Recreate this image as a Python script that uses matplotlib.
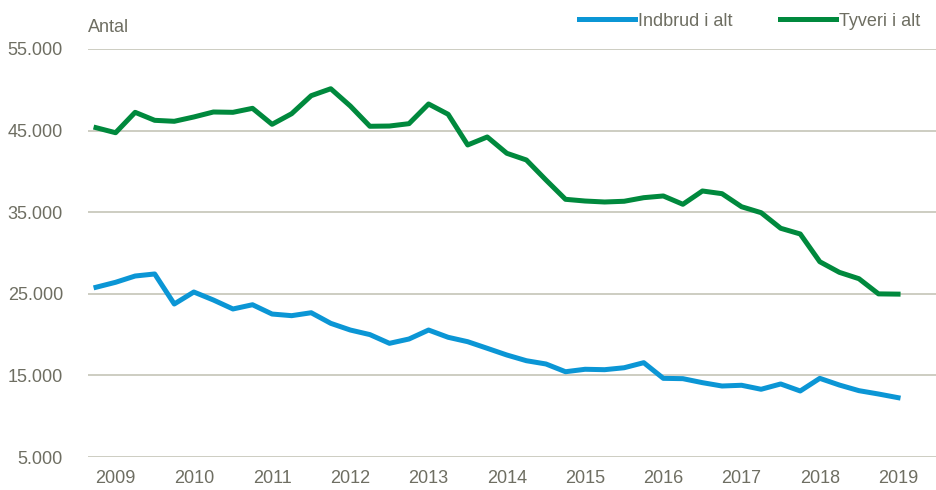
import matplotlib
matplotlib.use('Agg')
from matplotlib import pyplot as plt
from matplotlib.ticker import FuncFormatter

# quarterly, Q1 2009 .. Q2 2019
quarters = list(range(42))
indbrud = [25800, 26410, 27180, 27430, 23750, 25220, 24240, 23140, 23660, 22520,
           22320, 22680, 21380, 20560, 20000, 18930, 19460, 20560, 19670, 19130,
           18320, 17500, 16800, 16400, 15450, 15750, 15700, 15940, 16560, 14640,
           14600, 14110, 13700, 13790, 13300, 13950, 13090, 14640, 13820, 13130,
           12720, 12270]
tyveri = [45360, 44740, 47240, 46260, 46140, 46670, 47280, 47240, 47730, 45770,
          47070, 49280, 50130, 48010, 45530, 45560, 45850, 48260, 47000, 43240,
          44220, 42220, 41400, 38950, 36580, 36370, 36250, 36340, 36780, 36990,
          35970, 37600, 37270, 35670, 34940, 33030, 32330, 28930, 27630, 26850,
          24990, 24960]
year_pos = [1 + 4 * k for k in range(11)]
year_labels = [str(2009 + k) for k in range(11)]
y_ticks = [5000, 15000, 25000, 35000, 45000, 55000]

text_col = '#6e6e62'
grid_col = '#c9c9bd'

plt.rcParams['font.family'] = ['Liberation Sans', 'DejaVu Sans']

fig = plt.figure(figsize=(9.36, 4.9), dpi=100)
ax = fig.add_axes([88 / 936, 1 - 457 / 490, 848 / 936, (457 - 49) / 490])

ax.plot(quarters, indbrud, color='#0b96d5', lw=3.6, label='Indbrud i alt', solid_joinstyle='round')
ax.plot(quarters, tyveri, color='#00893d', lw=3.6, label='Tyveri i alt', solid_joinstyle='round')

ax.set_ylim(5000, 55000)
ax.set_xlim(-0.41, 42.94)
ax.set_yticks(y_ticks)
ax.yaxis.set_major_formatter(FuncFormatter(lambda v, p: f'{int(v):,}'.replace(',', '.')))
ax.set_xticks(year_pos)
ax.set_xticklabels(year_labels)
ax.tick_params(length=0, labelsize=13, colors=text_col)
ax.tick_params(axis='y', pad=18)
ax.tick_params(axis='x', pad=9)
ax.grid(axis='y', color=grid_col, lw=1.3)
ax.set_axisbelow(True)
for s in ax.spines.values():
    s.set_visible(False)

fig.text(88 / 936, 1 - 27 / 490, 'Antal', color=text_col, fontsize=13, va='center', ha='left')

leg = fig.legend(loc='center right', bbox_to_anchor=(937 / 936, 1 - 21 / 490), ncol=2,
                 frameon=False, fontsize=13, handlelength=3.1, handletextpad=0.2,
                 columnspacing=2.6)
for t in leg.get_texts():
    t.set_color(text_col)

fig.savefig('out.png', dpi=100)
